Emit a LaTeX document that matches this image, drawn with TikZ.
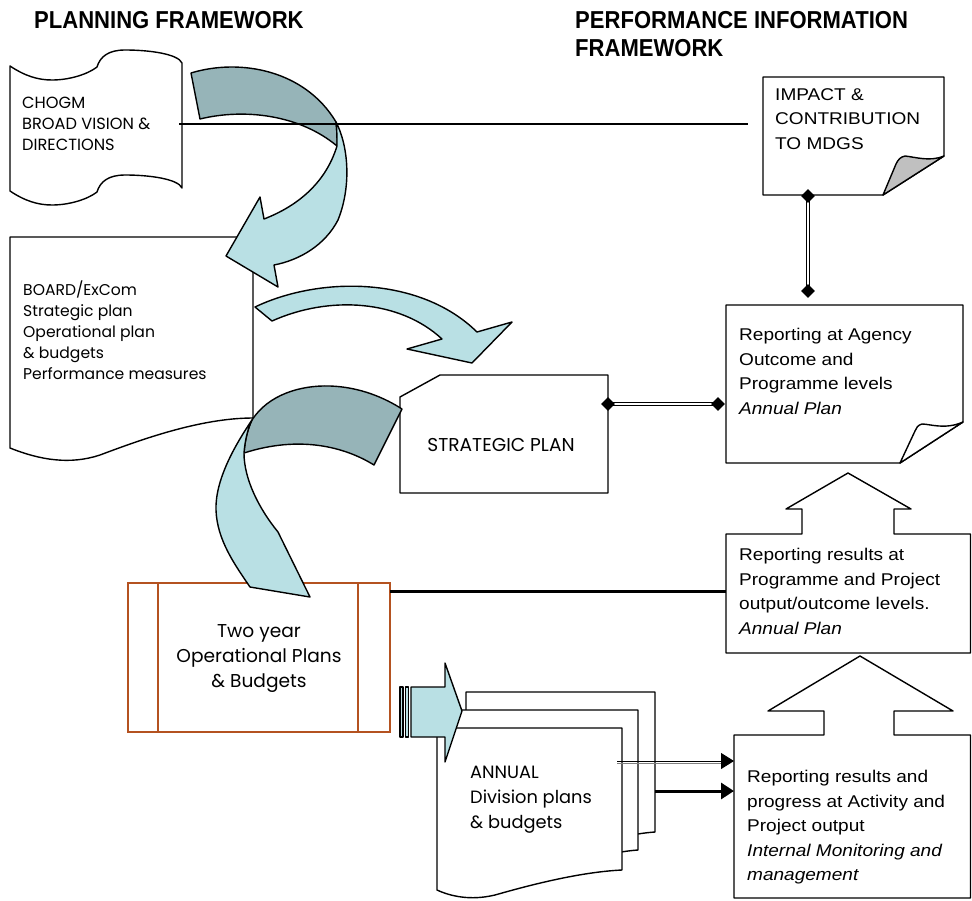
\documentclass[tikz,border=0pt]{standalone}
\usepackage{fontspec}
\setmainfont{Liberation Sans}
\newfontfamily\gothicfont{Poppins}
\newfontfamily\reportfont[FakeStretch=1.12]{Liberation Sans}
\newfontfamily\headfont[FakeStretch=0.9]{Liberation Sans}
\usetikzlibrary{arrows.meta,shapes.geometric}

\definecolor{ribbonlight}{RGB}{185,224,228}
\definecolor{ribbondark}{RGB}{150,180,184}
\definecolor{framebrown}{RGB}{180,82,32}
\definecolor{flapgray}{RGB}{192,192,192}

\tikzset{
  outline/.style={draw=black, line width=1.4pt, line join=round},
  paper/.style={outline, fill=white},
  ribbonfront/.style={outline, fill=ribbonlight},
  ribbonback/.style={outline, fill=ribbondark},
  plantext/.style={font=\gothicfont\fontsize{15.6}{21}\selectfont, align=left, anchor=north west, inner sep=0pt},
  reporttext/.style={font=\reportfont\fontsize{17}{24.5}\selectfont, align=left, anchor=north west, inner sep=0pt},
  headtext/.style={font=\headfont\bfseries\fontsize{24.5}{28}\selectfont, align=left, anchor=north west, inner sep=0pt},
  plainlink/.style={draw=black, line width=2.8pt},
  twinlink/.style={draw=black, line width=1.3pt, double=white, double distance=1.6pt},
  jointmark/.style={diamond, fill=black, inner sep=0pt, minimum width=14pt, minimum height=14pt},
  arrowtipped/.style={-{Triangle[length=13pt,width=16pt]}},
}

\begin{document}
\begin{tikzpicture}[x=1pt,y=-1pt]
\useasboundingbox (0,0) rectangle (972,900);
\fill[white] (0,0) rectangle (972,900);

% ---------- planning side ----------
% punched-tape scroll
\draw[paper] (10,66) .. controls (25,76) and (38,80) .. (52,80)
  .. controls (70,80) and (88,74) .. (97,67)
  .. controls (100,57) and (108,50) .. (125,50)
  .. controls (150,50) and (178,54) .. (182,63)
  -- (182,188)
  .. controls (178,179) and (150,175) .. (125,175)
  .. controls (108,175) and (100,182) .. (97,192)
  .. controls (88,199) and (70,205) .. (52,205)
  .. controls (38,205) and (25,201) .. (10,191) -- cycle;
\node[plantext, font=\gothicfont\fontsize{16.2}{21}\selectfont] (chogm) at (22,97)
  {CHOGM\\BROAD VISION \&\\DIRECTIONS};

% board document
\draw[paper] (10,237) -- (253,237) -- (253,418)
  .. controls (200,418) and (140,440) .. (100,455)
  .. controls (70,465) and (40,460) .. (10,448) -- cycle;
\node[plantext] (board) at (23,281)
  {BOARD/ExCom\\Strategic plan\\Operational plan\\\& budgets\\Performance measures};

% strategic plan card
\draw[paper] (400,397) -- (440,375) -- (608,375) -- (608,493) -- (400,493) -- cycle;
\node[font=\gothicfont\fontsize{18.6}{20}\selectfont, inner sep=0pt] (strat) at (501,445) {STRATEGIC PLAN};

% two year plans (predefined process)
\draw[framebrown, line width=1.3pt, fill=white] (128,583) rectangle (390,732);
\draw[framebrown, line width=1.3pt] (158,583) -- (158,732) (358,583) -- (358,732);
\node[font=\gothicfont\fontsize{18.6}{25}\selectfont, align=center, anchor=north, inner sep=0pt] (twoyear) at (259,624)
  {Two year\\Operational Plans\\\& Budgets};

% annual division plans (stacked documents)
\draw[paper] (466,692) -- (655,692) -- (655,832)
  .. controls (610,835) and (560,858) .. (520,864)
  .. controls (500,867) and (480,862) .. (466,856) -- cycle;
\draw[paper] (452,710) -- (638,710) -- (638,850)
  .. controls (595,853) and (545,875) .. (505,881)
  .. controls (485,884) and (466,880) .. (452,873) -- cycle;
\draw[paper] (437,728) -- (622,728) -- (622,870)
  .. controls (580,872) and (530,885) .. (495,895)
  .. controls (470,901) and (450,896) .. (437,890) -- cycle;
\node[plantext, font=\gothicfont\fontsize{17.8}{25}\selectfont] (annual) at (470,766)
  {ANNUAL\\Division plans\\\& budgets};

% ---------- performance information side ----------
% impact note with grey folded corner
\draw[paper] (763,77) -- (944,77) -- (944,156) -- (883,195) -- (763,195) -- cycle;
\draw[outline, fill=flapgray] (944,156) .. controls (930,162) and (915,157) .. (905,156)
  .. controls (900,157) and (898,160) .. (896,164) -- (883,195) -- cycle;
\node[reporttext] (impact) at (775,88) {IMPACT \&\\CONTRIBUTION\\TO MDGS};

% agency reporting note
\draw[paper] (726,305) -- (963,305) -- (963,422) -- (900,463) -- (726,463) -- cycle;
\draw[outline, fill=white] (963,422) .. controls (945,430) and (930,424) .. (922,424)
  .. controls (918,425) and (916,428) .. (915,431) -- (900,463) -- cycle;
\node[reporttext] (agency) at (739,328)
  {Reporting at Agency\\Outcome and\\Programme levels\\\textit{Annual Plan}};

% programme reporting with up arrow
\draw[paper] (726,534) -- (802,534) -- (802,509) -- (786,509) -- (848,473) -- (911,509)
  -- (894,509) -- (894,534) -- (970.5,534) -- (970.5,653) -- (726,653) -- cycle;
\node[reporttext] (progr) at (739,548)
  {Reporting results at\\Programme and Project\\output/outcome levels.\\\textit{Annual Plan}};

% activity reporting with up arrow
\draw[paper] (734,735) -- (824,735) -- (824,711) -- (768,711) -- (860,656) -- (953,711)
  -- (894,711) -- (894,735) -- (970.5,735) -- (970.5,898) -- (734,898) -- cycle;
\node[reporttext] (activity) at (747,770)
  {Reporting results and\\progress at Activity and\\Project output\\\textit{Internal Monitoring and}\\\textit{management}};

% ---------- curved ribbon arrows ----------
% CHOGM -> board
\draw[ribbonback] (191,73) .. controls (240,58) and (305,70) .. (336,122)
  .. controls (337,130) and (337,140) .. (337,146)
  .. controls (300,115) and (245,108) .. (200,119) -- cycle;
\draw[ribbonfront] (336,122) .. controls (348,145) and (352,185) .. (338,220)
  .. controls (325,245) and (300,260) .. (274,265) -- (278,287) -- (226,256) -- (260,197) -- (264,219)
  .. controls (295,207) and (325,185) .. (337,146)
  .. controls (337,140) and (337,130) .. (336,122) -- cycle;

% board -> strategic plan
\draw[ribbonfront] (255,307) .. controls (320,276) and (420,276) .. (477,332)
  -- (512,322) -- (472,363) -- (407,349) -- (442,339)
  .. controls (400,300) and (330,295) .. (272,321) -- cycle;

% board -> two year plans
\draw[ribbonback] (252,420) .. controls (268,395) and (300,385) .. (330,386)
  .. controls (360,387) and (385,398) .. (402,409) -- (374,465)
  .. controls (345,447) and (300,435) .. (244,453)
  .. controls (245,440) and (248,428) .. (252,420) -- cycle;
\draw[ribbonfront] (252,420) .. controls (235,445) and (215,480) .. (216,510)
  .. controls (217,540) and (235,565) .. (250,587) -- (310,597) -- (278,532)
  .. controls (260,510) and (244,480) .. (244,453)
  .. controls (245,440) and (248,428) .. (252,420) -- cycle;

% striped arrow into the annual plans
\draw[outline, fill=ribbonlight] (400,687) rectangle (403,737);
\draw[outline, fill=ribbonlight] (405.5,687) rectangle (408.5,737);
\draw[ribbonfront] (411,687) -- (445,687) -- (445,663) -- (462,711) -- (445,762)
  -- (445,737) -- (411,737) -- cycle;

% ---------- connectors ----------
\coordinate (chogm-out) at (179,124);
\coordinate (impact-near) at (748,124);
\draw[plainlink] (chogm-out) -- (impact-near);

\coordinate (twoyear-e) at (390,591);
\coordinate (progr-w) at (726,591);
\draw[plainlink, line width=3pt] (twoyear-e) -- (progr-w);

\coordinate (strat-e) at (608,404);
\coordinate (agency-w) at (718,404);
\draw[twinlink] (strat-e) -- (agency-w);
\node[jointmark] (strat-joint) at (strat-e) {};
\node[jointmark] (agency-joint) at (agency-w) {};

\coordinate (impact-s) at (808,196);
\coordinate (agency-n) at (808,291);
\draw[twinlink] (impact-s) -- (agency-n);
\node[jointmark] (impact-joint) at (impact-s) {};
\node[jointmark] (agency-top-joint) at (agency-n) {};

\coordinate (annual-a) at (617,761);
\coordinate (activity-a) at (734,761);
\draw[gray, line width=1pt] ([yshift=-2.5pt]annual-a) -- ([yshift=-2.5pt,xshift=-13pt]activity-a);
\draw[line width=1pt, arrowtipped] (annual-a) -- (activity-a);

\coordinate (annual-b) at (655,791);
\coordinate (activity-b) at (734,791);
\draw[line width=3pt, arrowtipped] (annual-b) -- (activity-b);

% ---------- headings ----------
\node[headtext] (planhead) at (34,11) {PLANNING FRAMEWORK};
\node[headtext] (perfhead) at (575,11) {PERFORMANCE INFORMATION\\FRAMEWORK};
\end{tikzpicture}
\end{document}
